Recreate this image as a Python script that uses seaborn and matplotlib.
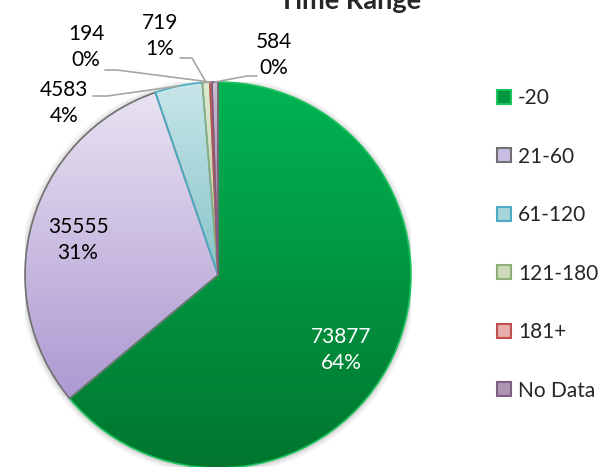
import numpy as np
import matplotlib
matplotlib.use("Agg")
import matplotlib.pyplot as plt
from matplotlib.patches import Patch, Circle
import seaborn as sns

# Data
categories = ['-20', '21-60', '61-120', '121-180', '181+', 'No Data']
counts = [73877, 35555, 4583, 719, 194, 584]
pct_labels = ['64%', '31%', '4%', '1%', '0%', '0%']

# Excel-like vertical gradients (top, bottom) and outline colours
grad_top = ['#00B452', '#E8E3F1', '#C8E6EA', '#E0EAD3', '#F4CFCD', '#CDBFD1']
grad_bottom = ['#00762F', '#AE98D2', '#86C4C8', '#B3C89C', '#D88F8C', '#8A6C92']
edge_colors = ['#1CC45E', '#707070', '#4BACC6', '#8FAD7A', '#C0504D', '#7E5E82']

sns.set_style('white')
plt.rcParams['font.family'] = ['Lato', 'DejaVu Sans']

fig = plt.figure(figsize=(5.99, 4.67), dpi=100)
W, H = 599, 467
cx, cy, r = 218, 275, 193
ax = fig.add_axes([(cx - r) / W, (H - cy - r) / H, 2 * r / W, 2 * r / H])

wedges, _ = ax.pie(counts, startangle=90, counterclock=False,
                   colors=grad_bottom, wedgeprops=dict(linewidth=0))

# soft shadow behind the pie
for k, a in [(1.03, 0.04), (1.02, 0.05), (1.01, 0.07)]:
    ax.add_patch(Circle((0.0, -0.004), k, color='black', alpha=a, linewidth=0, zorder=0))

# gradient fill clipped to each wedge
for w, top, bot in zip(wedges, grad_top, grad_bottom):
    ext = w.get_path().get_extents()
    c0 = np.array(matplotlib.colors.to_rgb(top))
    c1 = np.array(matplotlib.colors.to_rgb(bot))
    t = np.linspace(0, 1, 256)[:, None]
    img = (c0 * (1 - t) + c1 * t)[:, None, :]
    im = ax.imshow(img, extent=(ext.x0, ext.x1, ext.y0, ext.y1),
                   aspect='auto', zorder=2, interpolation='bilinear')
    im.set_clip_path(w)

# outlines on top
outl, _ = ax.pie(counts, startangle=90, counterclock=False,
                 wedgeprops=dict(fill=False, linewidth=1.2, zorder=3))
for w, ec in zip(outl, edge_colors):
    w.set_edgecolor(ec)
    w.set_zorder(3)

ax.set_xlim(-1, 1)
ax.set_ylim(-1, 1)
ax.set_aspect('equal')
ax.axis('off')


def px(x, y):
    return ((x - cx) / r, (cy - y) / r)


def mid_point(w, rr=1.0):
    ang = np.deg2rad((w.theta1 + w.theta2) / 2)
    return (rr * np.cos(ang), rr * np.sin(ang))


fs = 15
# inside labels
ax.text(*px(341, 350), f'{counts[0]}\n{pct_labels[0]}', ha='center', va='center',
        fontsize=fs, color='white', linespacing=1.35, zorder=5)
ax.text(*px(78, 240), f'{counts[1]}\n{pct_labels[1]}', ha='center', va='center',
        fontsize=fs, color='black', linespacing=1.35, zorder=5)

# outside labels with leader lines: (text centre, elbow start, elbow end)
outside = {
    2: ((64, 103), (93, 96), (107, 96)),
    3: ((160, 36), (180, 58), (192, 58)),
    4: ((86, 47), (105, 70), (117, 70)),
    5: ((274, 55), (257, 76), (247, 76)),
}
for i, (tpos, e0, e1) in outside.items():
    ax.text(*px(*tpos), f'{counts[i]}\n{pct_labels[i]}', ha='center', va='center',
            fontsize=fs, color='black', linespacing=1.35, zorder=5, clip_on=False)
    end = mid_point(wedges[i], 1.0)
    xs = [px(*e0)[0], px(*e1)[0], end[0]]
    ys = [px(*e0)[1], px(*e1)[1], end[1]]
    ax.plot(xs, ys, color='#A6A6A6', linewidth=1.2, zorder=4, clip_on=False)

fig.text(350 / W, 1 - 9 / H, 'Time Range', ha='center', va='baseline',
         fontsize=19.5, fontweight='bold')

handles = [Patch(facecolor=(np.array(matplotlib.colors.to_rgb(a)) + np.array(matplotlib.colors.to_rgb(b))) / 2,
                 edgecolor=ec, linewidth=1.5)
           for a, b, ec in zip(grad_top, grad_bottom, edge_colors)]
fig.legend(handles, categories, loc='upper left', bbox_to_anchor=(497 / W, 1 - 88 / H),
           frameon=False, fontsize=fs, labelspacing=1.85, handlelength=0.65,
           handleheight=0.65, handletextpad=0.35, borderpad=0, borderaxespad=0)

fig.savefig('out.png', dpi=100)
